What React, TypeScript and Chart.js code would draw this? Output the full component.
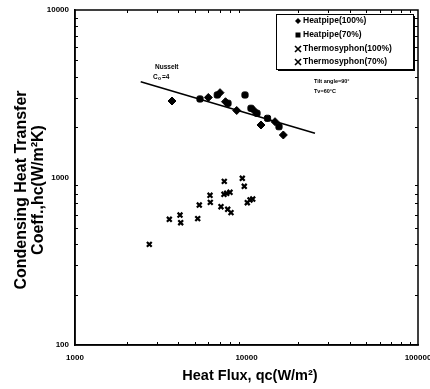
import React, { useEffect, useRef } from 'react';
import { Chart, registerables } from 'chart.js';
Chart.register(...registerables);

const hp100Flux = [3678, 5989, 7007, 7543, 8768, 11058, 12149, 14664, 16393];
const hp100Hc = [2862, 3004, 3209, 2834, 2512, 2512, 2058, 2154, 1794];
const hp70Flux = [5356, 6756, 9801, 7800, 10622, 11513, 13259, 15470];
const hp70Hc = [2943, 3109, 3109, 2773, 2589, 2417, 2256, 2011];
const ts100Flux = [2712, 4095, 5194, 6127, 7099, 7391, 8013, 8121, 9706, 10482];
const ts100Hc = [399, 597, 568, 783, 669, 794, 816, 617, 886, 734];
const ts70Flux = [3548, 4133, 5306, 6151, 7421, 7664, 7769, 9452, 10108, 10869];
const ts70Hc = [563, 537, 685, 711, 949, 805, 646, 989, 707, 744];
const nusseltFlux = [2416, 25080];
const nusseltHc = [3733, 1836];

const xTicks = [1000, 10000, 100000];
const yTicks = [100, 1000, 10000];
const legendLabels = ['Heatpipe(100%)', 'Heatpipe(70%)', 'Thermosyphon(100%)', 'Thermosyphon(70%)'];
const xTitle = 'Heat Flux, qc(W/m²)';
const yTitle = ['Condensing Heat Transfer', 'Coeff.,hc(W/m²K)'];

const FONT = '"Liberation Sans", Arial, sans-serif';

function pts(xs: number[], ys: number[]) {
  return xs.map((x, i) => ({ x, y: ys[i] }));
}

function drawMarker(ctx: CanvasRenderingContext2D, kind: number, x: number, y: number, r: number) {
  ctx.save();
  ctx.fillStyle = '#000';
  ctx.strokeStyle = '#000';
  if (kind === 0) {
    ctx.beginPath();
    ctx.moveTo(x, y - r); ctx.lineTo(x + r, y); ctx.lineTo(x, y + r); ctx.lineTo(x - r, y);
    ctx.closePath(); ctx.fill();
  } else if (kind === 1) {
    ctx.fillRect(x - r, y - r, 2 * r, 2 * r);
  } else {
    ctx.lineWidth = 1.6;
    ctx.beginPath();
    ctx.moveTo(x - r, y - r); ctx.lineTo(x + r, y + r);
    ctx.moveTo(x + r, y - r); ctx.lineTo(x - r, y + r);
    ctx.stroke();
  }
  ctx.restore();
}

const decor = {
  id: 'decor',
  afterDraw(chart: any) {
    const { ctx, chartArea: a, scales } = chart;
    const xs = scales.x, ys = scales.y;
    ctx.save();
    ctx.strokeStyle = '#000';
    ctx.lineWidth = 1.5;
    ctx.strokeRect(a.left, a.top, a.right - a.left, a.bottom - a.top);
    ctx.lineWidth = 1;
    ctx.beginPath();
    for (const d of [100, 1000]) {
      for (let k = 2; k <= 9; k++) {
        const py = Math.round(ys.getPixelForValue(k * d)) + 0.5;
        ctx.moveTo(a.left, py); ctx.lineTo(a.left + 3, py);
        ctx.moveTo(a.right, py); ctx.lineTo(a.right - 3, py);
      }
    }
    for (const d of [1000, 10000]) {
      for (let k = 2; k <= 9; k++) {
        const px = Math.round(xs.getPixelForValue(k * d)) + 0.5;
        ctx.moveTo(px, a.bottom); ctx.lineTo(px, a.bottom - 3);
        ctx.moveTo(px, a.top); ctx.lineTo(px, a.top + 3);
      }
    }
    ctx.stroke();

    // axis titles
    ctx.fillStyle = '#000';
    ctx.font = `bold 14.5px ${FONT}`;
    ctx.textAlign = 'center';
    ctx.textBaseline = 'middle';
    ctx.fillText(xTitle, 250, 376);
    ctx.save();
    ctx.translate(22, 190);
    ctx.rotate(-Math.PI / 2);
    ctx.font = `bold 16px ${FONT}`;
    ctx.fillText(yTitle[0], 0, 0);
    ctx.fillText(yTitle[1], 0, 17);
    ctx.restore();

    // legend box
    const lx = 276, ly = 14, lw = 137, lh = 55;
    ctx.fillStyle = '#fff';
    ctx.fillRect(lx, ly, lw, lh);
    ctx.lineWidth = 1;
    ctx.strokeStyle = '#000';
    ctx.strokeRect(lx + 0.5, ly + 0.5, lw, lh);
    ctx.fillStyle = '#000';
    ctx.fillRect(lx + 2, ly + lh, lw, 2);
    ctx.fillRect(lx + lw, ly + 2, 2, lh);
    ctx.font = `bold 8.5px ${FONT}`;
    ctx.textAlign = 'left';
    ctx.textBaseline = 'middle';
    const rows = [21, 35, 49, 62];
    legendLabels.forEach((t, i) => {
      drawMarker(ctx, i < 2 ? i : 2, 298, rows[i], i === 1 ? 2.5 : 3);
      ctx.fillText(t, 303, rows[i]);
    });

    // annotations
    ctx.font = `bold 5.5px ${FONT}`;
    ctx.fillText('Tilt angle=90°', 314, 81);
    ctx.fillText('Tv=60°C', 314, 91);
    ctx.font = `bold 6.5px ${FONT}`;
    ctx.fillText('Nusselt', 155, 67);
    ctx.fillText('C', 153, 77);
    ctx.font = `bold 5px ${FONT}`;
    ctx.fillText('o', 158, 79);
    ctx.font = `bold 6.5px ${FONT}`;
    ctx.fillText('=4', 162, 77);
    ctx.restore();
  },
};

export default function App() {
  const ref = useRef<HTMLCanvasElement>(null);
  useEffect(() => {
    const chart = new Chart(ref.current!, {
      type: 'scatter',
      data: {
        datasets: [
          { label: legendLabels[0], data: pts(hp100Flux, hp100Hc), pointStyle: 'rectRot', pointRadius: 4, backgroundColor: '#000', borderColor: '#000' },
          { label: legendLabels[1], data: pts(hp70Flux, hp70Hc), pointStyle: 'rectRounded', pointRadius: 3.6, backgroundColor: '#000', borderColor: '#000' },
          { label: legendLabels[2], data: pts(ts100Flux, ts100Hc), pointStyle: 'crossRot', pointRadius: 3.4, borderWidth: 2.2, backgroundColor: '#000', borderColor: '#000' },
          { label: legendLabels[3], data: pts(ts70Flux, ts70Hc), pointStyle: 'crossRot', pointRadius: 3.4, borderWidth: 2.2, backgroundColor: '#000', borderColor: '#000' },
          { label: 'Nusselt', type: 'line', data: pts(nusseltFlux, nusseltHc), showLine: true, pointRadius: 0, borderWidth: 1.6, borderColor: '#000', fill: false } as any,
        ],
      },
      options: {
        animation: false,
        responsive: false,
        devicePixelRatio: 1,
        layout: { padding: { left: 0, top: 10, right: 12, bottom: 0 } },
        plugins: { legend: { display: false }, tooltip: { enabled: false } },
        scales: {
          x: {
            type: 'logarithmic', min: 1000, max: 100000,
            afterBuildTicks: (s: any) => { s.ticks = xTicks.map((v) => ({ value: v })); },
            afterFit: (s: any) => { s.height = 44; s.paddingLeft = 0; s.paddingRight = 0; },
            ticks: { color: '#000', font: { family: FONT, size: 8, weight: 'bold' }, padding: 8, maxRotation: 0, autoSkip: false, callback: (v: any) => String(v) },
            grid: { drawOnChartArea: false, drawTicks: false },
            border: { color: '#000', width: 1.5 },
          },
          y: {
            type: 'logarithmic', min: 100, max: 10000,
            afterBuildTicks: (s: any) => { s.ticks = yTicks.map((v) => ({ value: v })); },
            afterFit: (s: any) => { s.width = 75; s.paddingTop = 0; s.paddingBottom = 0; },
            ticks: { color: '#000', font: { family: FONT, size: 8, weight: 'bold' }, padding: 6, autoSkip: false, callback: (v: any) => String(v) },
            grid: { drawOnChartArea: false, drawTicks: false },
            border: { color: '#000', width: 1.5 },
          },
        },
      },
      plugins: [decor],
    });
    return () => chart.destroy();
  }, []);
  return (
    <div style={{ position: 'fixed', left: 0, top: 0, width: 430, height: 389, background: '#fff' }}>
      <canvas ref={ref} width={430} height={389} />
    </div>
  );
}
